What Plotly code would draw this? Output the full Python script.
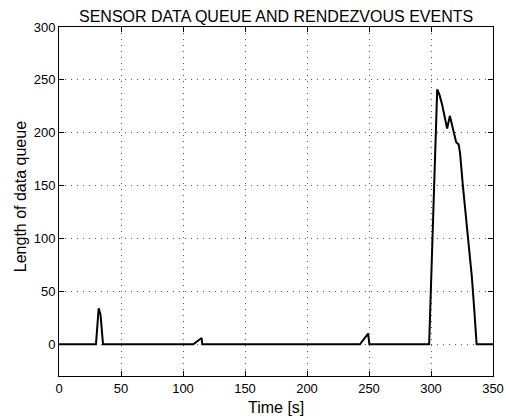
import plotly.graph_objects as go

time_s = [0, 29.8, 32.0, 33.5, 35.5, 108.3, 115.0, 115.5, 242.7, 249.3, 250.3,
          298.5, 305.0, 306.8, 308.9, 310.8, 313.0, 315.2, 317.0, 318.6, 320.3,
          322.3, 323.5, 325.7, 328.4, 331.0, 333.0, 335.0, 336.8, 350]
queue_len = [0, 0, 34, 28, 0, 0, 6, 0, 0, 10, 0,
             0, 241, 236, 227, 217, 204, 216, 207, 199, 191,
             189, 180, 150, 118, 86, 63, 31, 0, 0]

x_ticks = [0, 50, 100, 150, 200, 250, 300, 350]
y_ticks = [0, 50, 100, 150, 200, 250, 300]

title_text = "SENSOR DATA QUEUE AND RENDEZVOUS EVENTS"
x_label = "Time [s]"
y_label = "Length of data queue"

FAM = "Liberation Sans, Arial, sans-serif"
tick_font = dict(family=FAM, size=13, color="black")
label_font = dict(family=FAM, size=16, color="black")
axis_common = dict(showline=True, linecolor="black", linewidth=1, mirror="ticks",
                   ticks="inside", ticklen=5, tickcolor="black",
                   showgrid=True, gridcolor="#555555", griddash="1px,5px", gridwidth=1,
                   zeroline=False, tickfont=tick_font, automargin=False)

fig = go.Figure()
fig.add_trace(go.Scatter(x=time_s, y=queue_len, mode="lines",
                         line=dict(color="black", width=2), showlegend=False,
                         hoverinfo="skip"))

fig.update_xaxes(range=[0, 350], tickvals=x_ticks, **axis_common)
fig.update_yaxes(range=[-30, 300], tickvals=y_ticks, **axis_common)

# plot area: x 59..493, y 27..376 (349 px tall, 434 px wide)
fig.update_layout(
    width=506, height=418,
    margin=dict(l=59, r=13, t=27, b=42),
    paper_bgcolor="white", plot_bgcolor="white",
    font=tick_font,
    annotations=[
        dict(text=title_text, xref="paper", yref="paper", x=0.5, y=1.029,
             xanchor="center", yanchor="middle", showarrow=False,
             font=dict(family=FAM, size=16, color="black")),
        dict(text=x_label, xref="paper", yref="paper", x=0.5, y=-0.089,
             xanchor="center", yanchor="middle", showarrow=False, font=label_font),
        dict(text=y_label, xref="paper", yref="paper", x=-0.09, y=0.515,
             xanchor="center", yanchor="middle", showarrow=False, textangle=-90,
             font=label_font),
    ],
)

fig.write_html("out.html",
               config={"displayModeBar": False},
               post_script="document.body.style.margin='0';document.body.style.overflow='hidden';")
